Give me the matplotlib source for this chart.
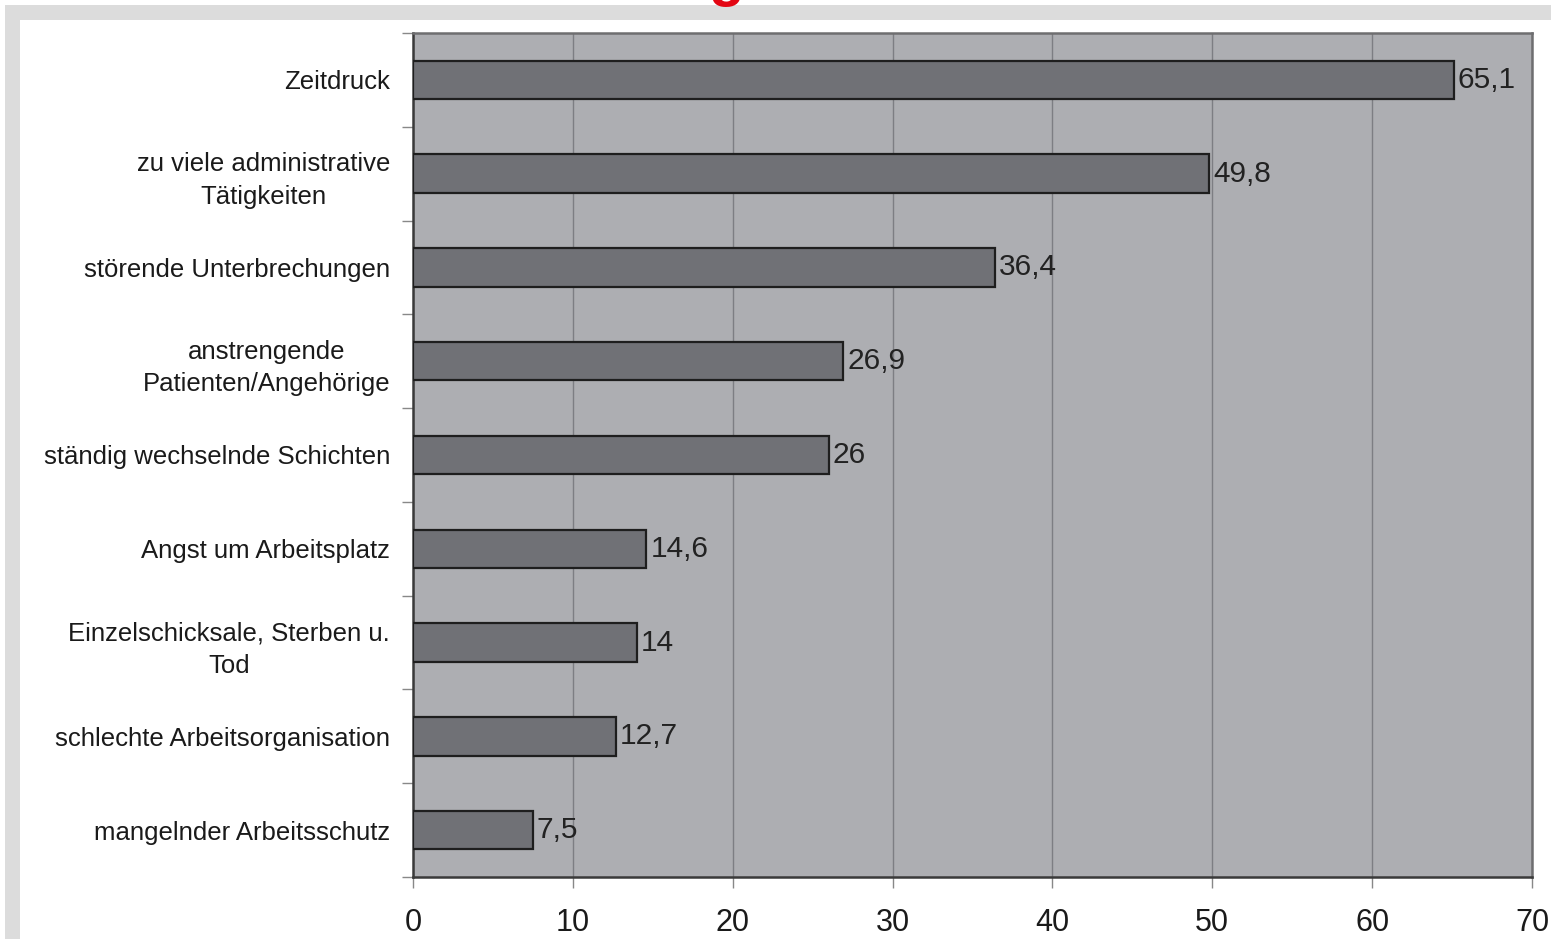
"""
Horizontal bar chart: Belastungsfaktoren (Anteil in %)
"""

import matplotlib.pyplot as plt
import numpy as np
from matplotlib.patches import Rectangle

plt.rcParams.update({"font.family": ["Liberation Sans", "DejaVu Sans"]})

categories = [
    "Zeitdruck",
    "zu viele administrative\nTätigkeiten",
    "störende Unterbrechungen",
    "anstrengende\nPatienten/Angehörige",
    "ständig wechselnde Schichten",
    "Angst um Arbeitsplatz",
    "Einzelschicksale, Sterben u.\nTod",
    "schlechte Arbeitsorganisation",
    "mangelnder Arbeitsschutz",
]
values = [65.1, 49.8, 36.4, 26.9, 26, 14.6, 14, 12.7, 7.5]
value_labels = ["65,1", "49,8", "36,4", "26,9", "26", "14,6", "14", "12,7", "7,5"]
x_ticks = [0, 10, 20, 30, 40, 50, 60, 70]

W, H = 1551, 939
fig = plt.figure(figsize=(W / 100, H / 100), dpi=100)

# light grey page frame
fig.patches.append(Rectangle((5 / W, 0), 1, 1 - 5 / H, transform=fig.transFigure,
                             facecolor="#dcdcdc", edgecolor="none", zorder=-2))
fig.patches.append(Rectangle((20 / W, 0), 1, 1 - 20 / H, transform=fig.transFigure,
                             facecolor="white", edgecolor="none", zorder=-1))
# red title, only its descender visible above the frame
fig.text(726 / W, 1 + 5 / H, "g", color="#e30613", fontsize=42, fontweight="bold",
         ha="center", va="baseline")

ax = fig.add_axes([413 / W, 1 - 877 / H, (1532 - 413) / W, (877 - 33) / H])
ax.set_facecolor("#adaeb2")

y = np.arange(len(categories))
ax.barh(y, values, height=0.41, color="#707176", edgecolor="#1e1e1e",
        linewidth=1.6, zorder=3)
for yi, v, lab in zip(y, values, value_labels):
    ax.text(v + 0.25, yi, lab, va="center", ha="left", fontsize=21.5,
            color="#222222", zorder=4)

ax.set_xlim(0, 70)
ax.set_ylim(len(categories) - 0.5, -0.5)
ax.set_xticks(x_ticks)
ax.set_xticklabels([str(t) for t in x_ticks], fontsize=22, color="#1a1a1a")
ax.set_yticks(y)
ax.set_yticklabels(categories, fontsize=18.5, color="#1a1a1a",
                   multialignment="center", linespacing=1.45)
ax.set_yticks(np.arange(len(categories) + 1) - 0.5, minor=True)
ax.tick_params(axis="y", which="major", length=0, pad=16.5)
ax.tick_params(axis="y", which="minor", length=8, color="#888888", width=1)
ax.tick_params(axis="x", length=8, color="#888888", width=1, pad=14)
ax.xaxis.grid(True, color="#7d7e83", linewidth=1, zorder=1)
ax.set_axisbelow(True)
for side, sp in ax.spines.items():
    sp.set_color("#6e6e70" if side in ("top", "right") else "#3a3a3a")
    sp.set_linewidth(1.8)

plt.savefig("out.png", dpi=100)
plt.close()
